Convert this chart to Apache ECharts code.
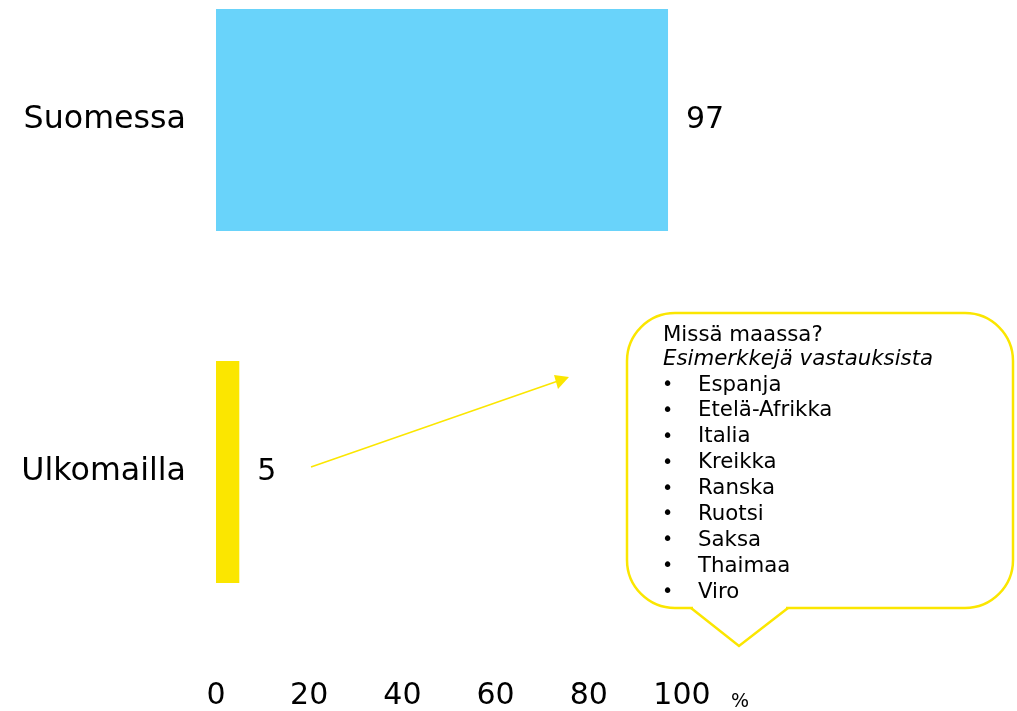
<!DOCTYPE html>
<html>
<head>
<meta charset="utf-8">
<script src="https://cdn.jsdelivr.net/npm/echarts@6/dist/echarts.min.js"></script>
<style>
html,body{margin:0;padding:0;background:#fff;}
#c{width:1017px;height:711px;}
</style>
</head>
<body>
<div id="c"></div>
<script>
const categories = ['Suomessa', 'Ulkomailla'];
const values = [97, 5];
const xTicks = [0, 20, 40, 60, 80, 100];
const calloutTitle = 'Missä maassa?';
const calloutSubtitle = 'Esimerkkejä vastauksista';
const countries = ['Espanja', 'Etelä-Afrikka', 'Italia', 'Kreikka', 'Ranska', 'Ruotsi', 'Saksa', 'Thaimaa', 'Viro'];

const barColors = ['#69D3FA', '#FBE600'];
const YEL = '#FBE600';
const FONT = 'DejaVu Sans';
const CF = '21.3px "' + FONT + '"';
const TXT = '#000';

const chart = echarts.init(document.getElementById('c'));

const graphics = [];
// speech bubble
graphics.push({
  type: 'rect', z: 10,
  shape: { x: 627, y: 313, width: 386, height: 295, r: 48 },
  style: { fill: '#fff', stroke: YEL, lineWidth: 2.5 }
});
graphics.push({
  type: 'rect', z: 11,
  shape: { x: 693, y: 605, width: 93, height: 6 },
  style: { fill: '#fff' }
});
graphics.push({
  type: 'polyline', z: 12,
  shape: { points: [[691, 608], [739, 646], [788, 608]] },
  style: { stroke: YEL, lineWidth: 2.5, fill: null }
});
graphics.push({
  type: 'text', x: 663, y: 335, z: 13,
  style: { text: calloutTitle, font: CF, fill: TXT, verticalAlign: 'middle' }
});
graphics.push({
  type: 'text', x: 663, y: 359, z: 13,
  style: { text: calloutSubtitle, font: 'italic ' + CF, fill: TXT, verticalAlign: 'middle' }
});
countries.forEach((c, i) => {
  const yc = 385 + i * 25.9;
  graphics.push({
    type: 'text', x: 662, y: yc, z: 13,
    style: { text: '•', font: '19px "' + FONT + '"', fill: TXT, verticalAlign: 'middle' }
  });
  graphics.push({
    type: 'text', x: 698, y: yc, z: 13,
    style: { text: c, font: CF, fill: TXT, verticalAlign: 'middle' }
  });
});
// arrow
graphics.push({
  type: 'line', z: 11,
  shape: { x1: 311, y1: 467, x2: 558, y2: 381 },
  style: { stroke: YEL, lineWidth: 1.5 }
});
graphics.push({
  type: 'polygon', z: 11,
  shape: { points: [[569, 377], [554, 375], [558, 389]] },
  style: { fill: YEL }
});
// % unit
graphics.push({
  type: 'text', x: 731, y: 702, z: 11,
  style: { text: '%', font: '19px "' + FONT + '"', fill: TXT, verticalAlign: 'middle' }
});

const option = {
  animation: false,
  backgroundColor: '#fff',
  textStyle: { fontFamily: FONT },
  grid: { left: 216, right: 335, top: 120, bottom: 235, containLabel: false },
  xAxis: {
    type: 'value', min: xTicks[0], max: xTicks[xTicks.length - 1], interval: 20,
    axisLine: { show: false }, axisTick: { show: false }, splitLine: { show: false },
    axisLabel: { fontSize: 30, color: TXT, margin: 209, fontFamily: FONT }
  },
  yAxis: {
    type: 'category', data: categories, inverse: true, boundaryGap: false,
    axisLine: { show: false }, axisTick: { show: false }, splitLine: { show: false },
    axisLabel: { fontSize: 31.7, color: TXT, margin: 30, fontFamily: FONT }
  },
  series: [{
    type: 'bar',
    data: values.map((v, i) => ({ value: v, itemStyle: { color: barColors[i] } })),
    barWidth: 222,
    label: { show: true, position: 'right', distance: 18, fontSize: 30, color: TXT, fontFamily: FONT }
  }],
  graphic: graphics
};
chart.setOption(option);
</script>
</body>
</html>
